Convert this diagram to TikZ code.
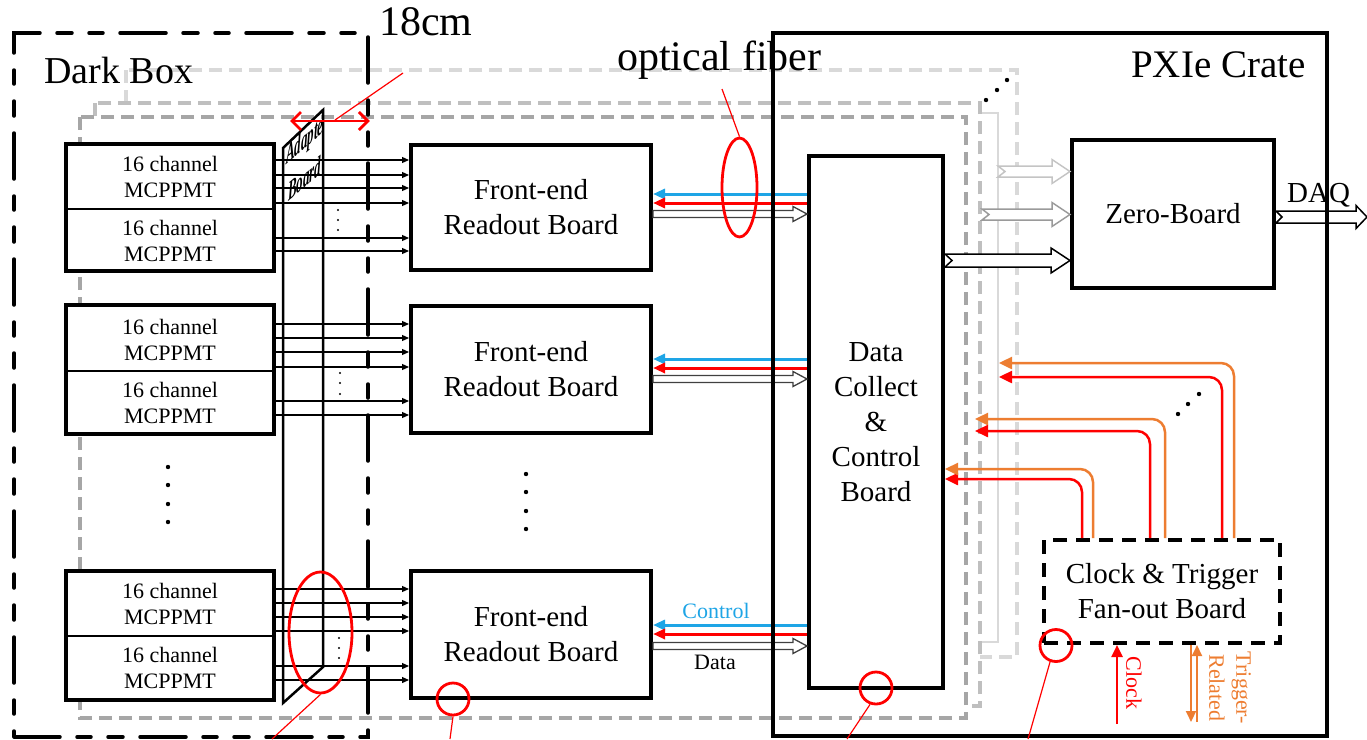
\documentclass[tikz,border=0pt]{standalone}
\usepackage{fontspec}
\setmainfont{Liberation Serif}
\usetikzlibrary{arrows.meta,calc,shapes.geometric}
\definecolor{layA}{HTML}{A6A6A6}
\definecolor{layB}{HTML}{BFBFBF}
\definecolor{layC}{HTML}{D9D9D9}
\definecolor{arrL}{HTML}{C4C4C4}
\definecolor{arrM}{HTML}{9A9A9A}
\definecolor{ctlblue}{HTML}{1EA5E6}
\definecolor{trgorange}{HTML}{ED7D31}
\definecolor{clkred}{HTML}{FF0000}
\newcommand\hollowarr[7]{%
  \draw[#1] ($(#2)+(0,-#4)$) -- ($(#3)+(-#6,-#4)$) -- ($(#3)+(-#6,-#5)$) -- (#3)
    -- ($(#3)+(-#6,#5)$) -- ($(#3)+(-#6,#4)$) -- ($(#2)+(0,#4)$) -- ($(#2)+(#7,0)$) -- cycle;}
\begin{document}
\begin{tikzpicture}[x=1pt,y=-1pt,
  boxstyle/.style={draw, line width=4pt, fill=white, inner sep=0pt},
  greylayer/.style={dash pattern=on 13pt off 7pt, line width=3.5pt, fill=white},
  sig/.style={line width=1.2pt, -{Triangle[length=7pt,width=6pt]}},
  fib/.style={line width=3pt, -{Triangle[length=12pt,width=10pt]}},
  dist/.style={line width=2.5pt, rounded corners=13pt, -{Triangle[length=13pt,width=12pt]}},
  annot/.style={draw=clkred, line width=2.8pt, inner sep=0pt},
  leader/.style={draw=clkred, line width=1.2pt},
  big/.style={font=\fontsize{29}{35}\selectfont, align=center},
  pmtt/.style={font=\fontsize{22}{26}\selectfont, align=center},
  small/.style={font=\fontsize{22}{27}\selectfont, align=center},
  adap/.style={anchor=base west, inner sep=0pt, font=\fontsize{13}{13}\selectfont\bfseries\itshape, cm={1,0.85,0,2.1,(0,0)}}]
\useasboundingbox (0,0) rectangle (1367,739);
% stacked copies of the readout system
\draw[greylayer, draw=layC] (126,70) rectangle (1017,657);
\draw[draw=layC, line width=2pt, fill=white] (950,113) rectangle (998,642);
\draw[greylayer, draw=layB] (95,103) rectangle (980,706);
\draw[greylayer, draw=layA] (80,117) rectangle (966,718);
\foreach \p in {(986,100),(997,90),(1007,80)} \fill \p circle (2.2pt);
% adapter board
\draw[line width=2.5pt] (283,148) -- (323,110) -- (323,667) -- (283,703) -- cycle;
\begin{scope}
\clip (283,148) -- (323,110) -- (323,667) -- (283,703) -- cycle;
\node[adap] (adtxt) at (286,165) {Adapter};
\node[adap] (bdtxt) at (288,202) {Board};
\end{scope}
% MCPPMT boxes
\node[boxstyle, minimum width=208pt, minimum height=127pt] (pmt1) at (170,207.5) {};
\node[boxstyle, minimum width=208pt, minimum height=129pt] (pmt2) at (170,369.5) {};
\node[boxstyle, minimum width=208pt, minimum height=129pt] (pmt3) at (170,635.5) {};
\draw[line width=1.2pt] (pmt1.west |- 0,209) -- (pmt1.east |- 0,209);
\draw[line width=1.2pt] (pmt2.west |- 0,371) -- (pmt2.east |- 0,371);
\draw[line width=1.2pt] (pmt3.west |- 0,636) -- (pmt3.east |- 0,636);
\node[pmtt] (p1a) at (170,177) {16 channel\\MCPPMT};
\node[pmtt] (p1b) at (170,241) {16 channel\\MCPPMT};
\node[pmtt] (p2a) at (170,340) {16 channel\\MCPPMT};
\node[pmtt] (p2b) at (170,403) {16 channel\\MCPPMT};
\node[pmtt] (p3a) at (170,604) {16 channel\\MCPPMT};
\node[pmtt] (p3b) at (170,668) {16 channel\\MCPPMT};
\foreach \yy in {467,485,504,522} \fill (168,\yy) circle (2.2pt);
% front-end boards
\node[boxstyle, big, minimum width=240pt, minimum height=125pt] (fee1) at (531,207.5) {Front-end\\Readout Board};
\node[boxstyle, big, minimum width=240pt, minimum height=127pt] (fee2) at (531,369.5) {Front-end\\Readout Board};
\node[boxstyle, big, minimum width=240pt, minimum height=127pt] (fee3) at (531,634.5) {Front-end\\Readout Board};
\foreach \yy in {474,492,511,529} \fill (526,\yy) circle (2.2pt);
% signal lines
\foreach \yy in {160,175,188,203,238,251} \draw[sig] (pmt1.east |- 0,\yy) -- (fee1.west |- 0,\yy);
\foreach \yy in {324,338,352,367,401,415} \draw[sig] (pmt2.east |- 0,\yy) -- (fee2.west |- 0,\yy);
\foreach \yy in {589,603,617,631,666,680} \draw[sig] (pmt3.east |- 0,\yy) -- (fee3.west |- 0,\yy);
\foreach \yy in {210,220,230} \fill (338,\yy) circle (1.2pt);
\foreach \yy in {373,383,394} \fill (340,\yy) circle (1.2pt);
\foreach \yy in {638,648,658} \fill (339,\yy) circle (1.2pt);
% data collect board, zero board, clock board
\node[boxstyle, big, minimum width=134pt, minimum height=532pt] (dcc) at (876,422) {Data\\Collect\\\&\\Control\\Board};
\node[boxstyle, big, minimum width=202pt, minimum height=148pt] (zero) at (1173,214) {Zero-Board};
\node[draw, line width=4pt, dash pattern=on 14pt off 9pt, fill=white, inner sep=0pt, big, minimum width=236pt, minimum height=103pt] (ctb) at (1162,591.5) {Clock \& Trigger\\Fan-out Board};
% optical fiber links
\foreach \f/\b/\r/\d in {fee1/194/203/214, fee2/359/368/379, fee3/625/634/646} {
  \draw[fib, ctlblue] (dcc.west |- 0,\b) -- (\f.east |- 0,\b);
  \draw[fib, clkred] (dcc.west |- 0,\r) -- (\f.east |- 0,\r);
  \hollowarr{draw=black!75, fill=white, line width=1.3pt}{\f.east |- 0,\d}{dcc.west |- 0,\d}{3.5}{7.5}{14}{0}
}
% data to zero board
\coordinate (l3dcc) at (998,171.5);
\coordinate (l2dcc) at (982,214.5);
\coordinate (daqend) at (1367,217);
\hollowarr{draw=arrL, fill=white, line width=1.5pt}{l3dcc}{zero.west |- l3dcc}{5.5}{12}{18}{7}
\hollowarr{draw=arrM, fill=white, line width=1.5pt}{l2dcc}{zero.west |- l2dcc}{5.5}{12}{18}{7}
\hollowarr{draw=black, fill=white, line width=1.5pt}{dcc.east |- 0,260.5}{zero.west |- 0,260.5}{6.5}{12.5}{19}{7}
\hollowarr{draw=black, fill=white, line width=1.5pt}{zero.east |- daqend}{daqend}{6}{11.5}{11}{6}
% clock and trigger distribution
\coordinate (p2r) at (975,431); \coordinate (p2o) at (975,419);
\coordinate (p3r) at (999,377); \coordinate (p3o) at (999,363);
\draw[dist, clkred] (ctb.north -| 1082,0) |- (dcc.east |- 0,479);
\draw[dist, trgorange] (ctb.north -| 1093,0) |- (dcc.east |- 0,469);
\draw[dist, clkred] (ctb.north -| 1150,0) |- (p2r);
\draw[dist, trgorange] (ctb.north -| 1165,0) |- (p2o);
\draw[dist, clkred] (ctb.north -| 1222,0) |- (p3r);
\draw[dist, trgorange] (ctb.north -| 1234,0) |- (p3o);
\foreach \p in {(1178,414),(1188,404),(1199,394)} \fill \p circle (2.2pt);
\coordinate (clkin) at (1117,724);
\coordinate (trgA) at (1191,722);
\coordinate (trgB) at (1197,722);
\draw[line width=2.5pt, clkred, -{Triangle[length=12pt,width=11pt]}] (clkin) -- (ctb.south -| clkin);
\draw[line width=2pt, trgorange, -{Triangle[length=11pt,width=10pt]}] (ctb.south -| trgA) -- (trgA);
\draw[line width=2pt, trgorange, -{Triangle[length=11pt,width=10pt]}] (trgB) -- (ctb.south -| trgB);
\node[small, text=clkred, rotate=-90] (clklbl) at (1134,683) {Clock};
\node[small, text=trgorange, rotate=-90] (trglbl) at (1230,688) {Trigger-\\Related};
% frames
\node[draw, line width=4pt, inner sep=0pt, minimum width=554pt, minimum height=703pt] (pxie) at (1050,384.5) {};
\node[draw, line width=3.5pt, line cap=round, dash pattern=on 46pt off 17pt on 14pt off 17pt on 15pt off 17pt, inner sep=0pt, minimum width=354pt, minimum height=704pt] (darkbox) at (191,385) {};
% red annotations
\coordinate (dimL) at (290,121);
\draw[annot, {Straight Barb[length=9pt,width=18pt]}-{Straight Barb[length=9pt,width=18pt]}] (dimL) -- (darkbox.east |- dimL);
\coordinate (cmfoot) at (335,120);
\coordinate (cmtop) at (403,73);
\draw[leader] (cmfoot) -- (cmtop);
\node[annot, ellipse, minimum width=35pt, minimum height=99pt] (fring) at (739.5,187.5) {};
\coordinate (flead) at (722,89);
\draw[leader] (fring.north) -- (flead);
\node[annot, ellipse, minimum width=63pt, minimum height=121pt] (aring) at (320.5,632.5) {};
\coordinate (alead) at (272,739);
\draw[leader] (aring.south) -- (alead);
\node[annot, circle, minimum size=32pt] (c1) at (453,699) {};
\coordinate (c1lead) at (450,739);
\draw[leader] (c1.south) -- (c1lead);
\node[annot, circle, minimum size=32pt] (c2) at (876,688) {};
\coordinate (c2lead) at (847,739);
\draw[leader] (c2.250) -- (c2lead);
\node[annot, circle, minimum size=32pt] (c3) at (1056,645.5) {};
\coordinate (c3lead) at (1028,739);
\draw[leader] (c3.250) -- (c3lead);
% labels
\node[anchor=base west, inner sep=0pt, font=\fontsize{38}{40}\selectfont] (dblbl) at (44,83) {Dark Box};
\node[anchor=base west, inner sep=0pt, font=\fontsize{42}{44}\selectfont] (cmlbl) at (379,35) {18cm};
\node[anchor=base west, inner sep=0pt, font=\fontsize{42}{44}\selectfont] (oflbl) at (617,70) {optical fiber};
\node[anchor=base west, inner sep=0pt, font=\fontsize{39}{41}\selectfont] (pxlbl) at (1131,77) {PXIe Crate};
\node[anchor=base west, inner sep=0pt, font=\fontsize{29}{31}\selectfont] (daqlbl) at (1287,202) {DAQ};
\node[anchor=base, inner sep=0pt, font=\fontsize{22}{24}\selectfont, text=ctlblue] (ctllbl) at (716,618) {Control};
\node[anchor=base, inner sep=0pt, font=\fontsize{22}{24}\selectfont] (datalbl) at (715,669) {Data};
\end{tikzpicture}
\end{document}
